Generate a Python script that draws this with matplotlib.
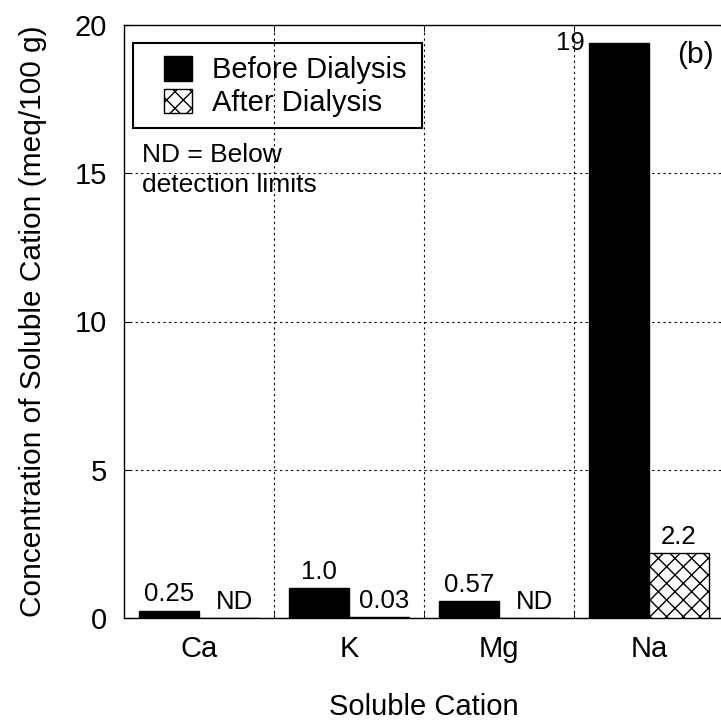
import numpy as np
import matplotlib
matplotlib.use('Agg')
import matplotlib.pyplot as plt
from matplotlib.patches import Patch, Rectangle

plt.rcParams['font.family'] = ['Liberation Sans', 'DejaVu Sans']
plt.rcParams['hatch.linewidth'] = 1.0

# data
cations = ['Ca', 'K', 'Mg', 'Na']
before = [0.25, 1.0, 0.57, 19.4]
after = [0.0, 0.03, 0.0, 2.2]
before_lbl = ['0.25', '1.0', '0.57', '19']
after_lbl = ['ND', '0.03', 'ND', '2.2']

fig = plt.figure(figsize=(7.21, 7.22), dpi=100)
ax = fig.add_axes([124/721, 1-618/722, 600/721, 593/722])

x = np.arange(len(cations))
w = 0.4
ax.bar(x - w/2, before, w, color='black', edgecolor='black', lw=1, zorder=3)
ax.bar(x + w/2, after, w, color='white', edgecolor='black', lw=1, hatch='xx', zorder=3)

# bar labels
for i in range(len(cations)):
    if i == 3:
        ax.annotate(before_lbl[i], (x[i] - w, before[i]), xytext=(-3, 0),
                    textcoords='offset points', ha='right', va='center', fontsize=18.5)
    else:
        ax.annotate(before_lbl[i], (x[i] - w/2, before[i]), xytext=(0, 3),
                    textcoords='offset points', ha='center', va='bottom', fontsize=18.5)
    ax.annotate(after_lbl[i], (x[i] + w/2, after[i]), xytext=(4 if after_lbl[i] != '2.2' else 0, 3),
                textcoords='offset points', ha='center', va='bottom', fontsize=18.5)

ax.set_xlim(-0.5, 3.5)
ax.set_ylim(0, 20)
ax.set_xticks(x)
ax.set_xticklabels(cations)
ax.set_xticks(x[:-1] + 0.5, minor=True)
ax.set_yticks([0, 5, 10, 15, 20])
ax.tick_params(axis='x', which='major', length=0, labelsize=21, pad=12)
ax.tick_params(axis='x', which='minor', direction='in', length=5, top=True, bottom=True)
ax.tick_params(axis='y', which='major', direction='in', length=5, labelsize=21, pad=12)

ax.grid(True, axis='y', which='major', color='black', lw=0.8, ls=(0, (2, 3)), zorder=1)
ax.grid(True, axis='x', which='minor', color='black', lw=0.8, ls=(0, (2, 3)), zorder=1)
for s in ax.spines.values():
    s.set_linewidth(1.0)

ax.set_xlabel('Soluble Cation', fontsize=21, labelpad=22)
ax.set_ylabel('Concentration of Soluble Cation (meq/100 g)', fontsize=21.5, labelpad=20)

# legend
handles = [Patch(facecolor='black', edgecolor='black'),
           Patch(facecolor='white', edgecolor='black', hatch='xx')]
ax.legend(handles, ['Before Dialysis', 'After Dialysis'], loc='upper left',
          bbox_to_anchor=(0.0667, 0.948), frameon=False, fontsize=21,
          borderpad=0, borderaxespad=0, labelspacing=0.15,
          handlelength=0.96, handleheight=0.93, handletextpad=0.69)
ax.add_patch(Rectangle((0.015, 0.8263), 0.4817, 0.1433, transform=ax.transAxes,
                       fill=False, edgecolor='black', lw=1.5, zorder=5))

ax.text(0.03, 0.801, 'ND = Below\ndetection limits', transform=ax.transAxes,
        ha='left', va='top', fontsize=19, linespacing=1.3)
ax.text(0.953, 0.949, '(b)', transform=ax.transAxes, ha='center', va='center', fontsize=21.5)

fig.savefig('out.png', dpi=100)
